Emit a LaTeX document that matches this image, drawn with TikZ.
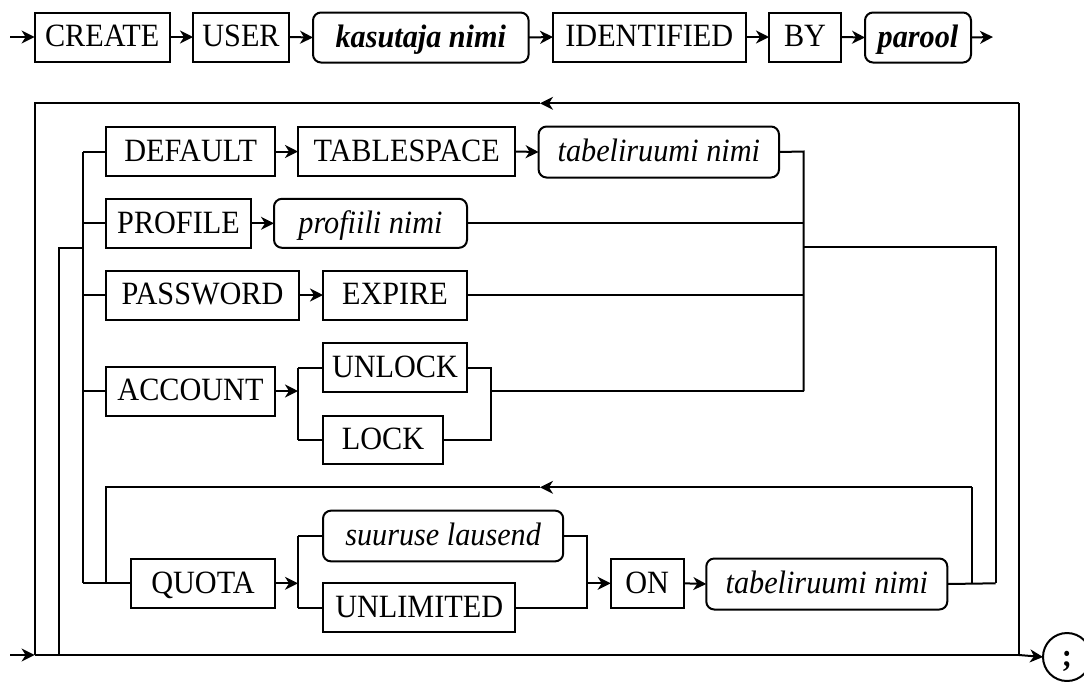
\documentclass[tikz,border=0pt]{standalone}
\usepackage{fontspec}
\setmainfont{Liberation Serif}[FakeStretch=0.93]
\usetikzlibrary{arrows.meta}
\begin{document}
\begin{tikzpicture}[x=1pt,y=-1pt,
  every node/.style={inner sep=0pt, outer sep=0pt, font=\fontsize{32.5}{36}\selectfont, text height=24.4pt, text depth=4.9pt},
  kw/.style={draw, line width=2pt},
  nt/.style={draw, line width=2pt, rounded corners=8pt},
  con/.style={line width=2pt},
  arr/.style={con, -{Stealth[length=13pt,width=13pt,inset=4pt]}},
]
\useasboundingbox (0,0) rectangle (1084,681);
% ---------- row 1
\coordinate (s0) at (10,37);
\node[kw, minimum width=135pt, minimum height=49pt] (create) at (102.1,37) {CREATE};
\node[kw, minimum width=96pt, minimum height=49pt] (user) at (241,37) {USER};
\node[nt, minimum width=215.6pt, minimum height=50pt] (kas) at (420.8,37.5) {\bfseries\itshape kasutaja nimi};
\node[kw, minimum width=192.5pt, minimum height=49pt] (ident) at (649.3,37) {IDENTIFIED};
\node[kw, minimum width=72pt, minimum height=49pt] (by) at (805,37) {BY};
\node[nt, minimum width=106pt, minimum height=50pt] (par) at (918,37.5) {\bfseries\itshape parool};
\coordinate (e0) at (993,37);
\draw[arr] (s0) -- (create.west);
\draw[arr] (create.east) -- (user.west);
\draw[arr] (user.east) -- (kas.west);
\draw[arr] (kas.east) -- (ident.west);
\draw[arr] (ident.east) -- (by.west);
\draw[arr] (by.east) -- (par.west);
\draw[arr] (par.east) -- (e0);
% ---------- options
\node[kw, minimum width=168.6pt, minimum height=49pt] (default) at (190.7,151.5) {DEFAULT};
\node[kw, minimum width=217.4pt, minimum height=49pt] (tspace) at (406.7,151.5) {TABLESPACE};
\node[nt, minimum width=240.4pt, minimum height=51pt] (tab1) at (658.8,152) {\itshape tabeliruumi nimi};
\node[kw, minimum width=145pt, minimum height=49pt] (profile) at (178.5,223.3) {PROFILE};
\node[nt, minimum width=193pt, minimum height=49pt] (prof) at (370.5,223.3) {\itshape profiili nimi};
\node[kw, minimum width=193pt, minimum height=49pt] (password) at (202.5,295) {PASSWORD};
\node[kw, minimum width=144pt, minimum height=49pt] (expire) at (395,295) {EXPIRE};
\node[kw, minimum width=169pt, minimum height=49pt] (account) at (190.5,391) {ACCOUNT};
\node[kw, minimum width=144pt, minimum height=48.4pt] (unlock) at (395,367.5) {UNLOCK};
\node[kw, minimum width=120pt, minimum height=48.4pt] (lock) at (383,440) {LOCK};
\node[kw, minimum width=144pt, minimum height=48.7pt] (quota) at (203,583.3) {QUOTA};
\node[nt, minimum width=240.2pt, minimum height=50.7pt] (size) at (443.1,536) {\itshape suuruse lausend};
\node[kw, minimum width=192.4pt, minimum height=48.4pt] (unlim) at (419.2,607.5) {UNLIMITED};
\node[kw, minimum width=73.1pt, minimum height=48.4pt] (on) at (647.2,583.3) {ON};
\node[nt, minimum width=241pt, minimum height=51pt] (tab2) at (826.8,584) {\itshape tabeliruumi nimi};
\node[draw, circle, line width=2pt, minimum size=48pt, font=\bfseries\fontsize{32.5}{36}\selectfont] (semi) at (1067,657) {;};
% ---------- outer loop
\coordinate (TR) at (1019,103.3);
\coordinate (TM) at (540,103.3);
\coordinate (TL) at (34.6,103.3);
\coordinate (BL) at (34.6,655);
\coordinate (BR) at (1019,655);
\coordinate (s1) at (10,655);
\draw[arr] (TR) -- (TM);
\draw[con] (TM) -- (TL) -- (BL);
\draw[con] (TR) -- (BR);
\draw[arr] (s1) -- (BL);
\draw[con] (BL) -- (BR);
\draw[arr] (BR) -- (semi.west);
% ---------- left branch
\coordinate (j1) at (59,655);
\coordinate (j2) at (59,248.3);
\coordinate (j3) at (83,248.3);
\coordinate (vt) at (83,151.5);
\coordinate (vb) at (83,583.3);
\draw[con] (j1) -- (j2) -- (j3);
\draw[con] (vt) -- (vb);
\draw[con] (vt) -- (default.west);
\draw[con] (83,223.3) -- (profile.west);
\draw[con] (83,295) -- (password.west);
\draw[con] (83,391) -- (account.west);
\draw[con] (vb) -- (quota.west);
% ---------- rows
\draw[arr] (default.east) -- (tspace.west);
\draw[arr] (tspace.east) -- (tab1.west);
\draw[arr] (profile.east) -- (prof.west);
\draw[arr] (password.east) -- (expire.west);
\coordinate (r1) at (803.5,151.5);
\coordinate (r2) at (803.5,391);
\draw[con] (tab1.east) -- (r1) -- (r2);
\draw[con] (prof.east) -- (803.5,223.3);
\draw[con] (expire.east) -- (803.5,295);
% account
\coordinate (a1) at (298,391);
\coordinate (a2) at (298,367.5);
\coordinate (a3) at (298,440);
\coordinate (a4) at (491,367.5);
\coordinate (a5) at (491,440);
\coordinate (a6) at (491,391);
\draw[arr] (account.east) -- (a1);
\draw[con] (a2) -- (a3);
\draw[con] (a2) -- (unlock.west);
\draw[con] (a3) -- (lock.west);
\draw[con] (unlock.east) -- (a4) -- (a5) -- (lock.east);
\draw[con] (a6) -- (r2);
% right join
\coordinate (k1) at (803.5,247.3);
\coordinate (k2) at (995.5,247.3);
\coordinate (k3) at (995.5,583.3);
\draw[con] (k1) -- (k2) -- (k3);
% quota
\coordinate (q1) at (298,583.3);
\coordinate (q2) at (298,536);
\coordinate (q3) at (298,607.5);
\coordinate (q4) at (586.5,536);
\coordinate (q5) at (586.5,607.5);
\coordinate (q6) at (586.5,583.3);
\draw[arr] (quota.east) -- (q1);
\draw[con] (q2) -- (q3);
\draw[con] (q2) -- (size.west);
\draw[con] (q3) -- (unlim.west);
\draw[con] (size.east) -- (q4) -- (q5) -- (unlim.east);
\draw[arr] (q6) -- (on.west);
\draw[arr] (on.east) -- (tab2.west);
\draw[con] (tab2.east) -- (k3);
% inner loop
\coordinate (l1) at (971.5,583.3);
\coordinate (l2) at (971.5,487.3);
\coordinate (l3) at (540,487.3);
\coordinate (l4) at (106.4,487.3);
\coordinate (l5) at (106.4,583.3);
\draw[con] (l1) -- (l2);
\draw[arr] (l2) -- (l3);
\draw[con] (l3) -- (l4) -- (l5);
\end{tikzpicture}
\end{document}
